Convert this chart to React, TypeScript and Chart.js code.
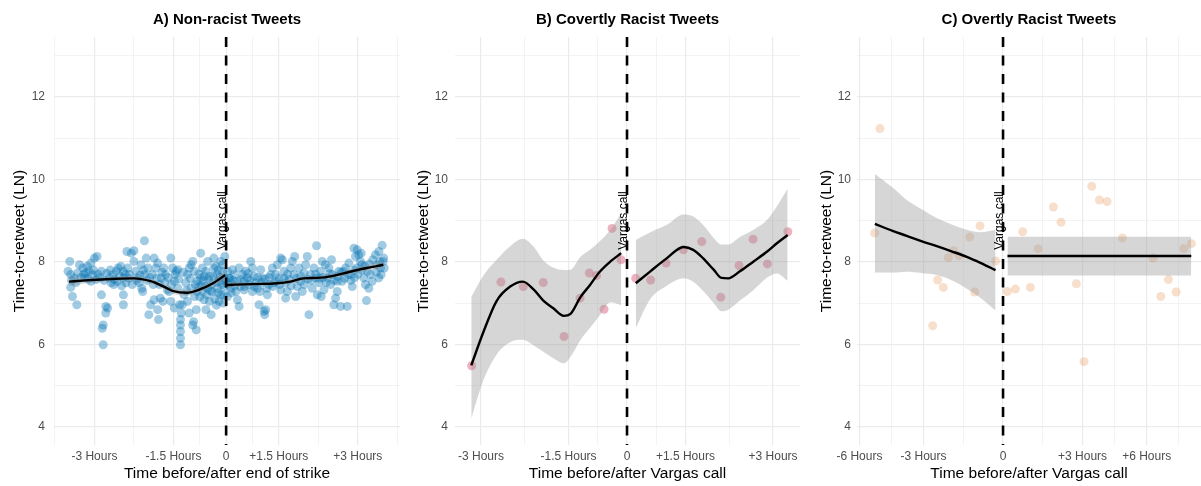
import React, { useEffect, useRef } from 'react';
import { Chart, registerables } from 'chart.js';

Chart.register(...registerables);

const FONT = "'Liberation Sans', Arial, Helvetica, sans-serif";
Chart.defaults.font.family = FONT;

// ---------- shared y axis ----------
const yTickValues = [4, 5, 6, 7, 8, 9, 10, 11, 12, 13];
const yLabelled = [4, 6, 8, 10, 12];
const yMin = 3.56;
const yMax = 13.45;
const yTitle = 'Time-to-retweet (LN)';
const eventX = 0;
const eventLabel = 'Vargas call';
const eventLabelY = 9;

// ---------- Panel A: Non-racist tweets (x in minutes) ----------
const aTitle = 'A) Non-racist Tweets';
const aXTitle = 'Time before/after end of strike';
const aTicks = [-150, -60, 0, 60, 150];
const aTickLabels = ['-3 Hours', '-1.5 Hours', '0', '+1.5 Hours', '+3 Hours'];
const aMinorTicks = [-195, -105, -30, 30, 105, 195];
const aRange = [-196, 198];

const aPoints: [number, number][] = [
  [-178, 8.01], [-180, 7.77], [-177, 7.69], [-173, 7.61], [-177, 7.38], [-175, 7.16], [-170, 6.96], [-167, 7.93], [-169, 7.73],
  [-163, 7.85], [-158, 7.89], [-154, 7.97], [-150, 8.09], [-147, 8.13], [-160, 7.73], [-156, 7.77], [-152, 7.69], [-148, 7.57], [-161, 7.61], [-154, 7.53],
  [-142, 7.77], [-142, 7.2], [-141, 6.39], [-140, 6.47], [-140, 5.99], [-137, 6.92], [-135, 6.88], [-137, 6.76], [-133, 7.61], [-131, 7.49], [-129, 7.69], [-127, 7.57],
  [-125, 7.77], [-123, 7.85], [-120, 7.89], [-117, 7.77], [-121, 7.65], [-117, 7.61], [-117, 7.2], [-117, 6.96], [-114, 7.49], [-112, 7.85], [-110, 7.69], [-108, 8.21], [-113, 8.25], [-105, 8.27],
  [-105, 8.01], [-103, 7.77], [-101, 7.61], [-97, 7.93], [-96, 7.36], [-93, 8.51], [-93, 7.69], [-91, 8.09], [-89, 7.85], [-99, 7.49], [-95, 7.28],
  [-88, 6.72], [-86, 6.96], [-82, 8.09], [-80, 7.85], [-82, 7.08], [-78, 6.84], [-77, 6.6], [-75, 7.12], [-72, 7.04], [-74, 7.61], [-76, 7.45], [-71, 7.85], [-84, 7.69], [-78, 7.97],
  [-69, 7.69], [-67, 7.32], [-63, 8.09], [-63, 7.04], [-61, 7.85], [-59, 7.53], [-57, 7.77], [-55, 7.81], [-53, 6.96], [-52, 6.6], [-52, 6.47], [-52, 6.31], [-52, 6.15], [-52, 5.99], [-51, 6.76], [-55, 7.36], [-65, 7.28], [-59, 6.88],
  [-50, 6.96], [-48, 7.2], [-46, 7.49], [-44, 7.69], [-42, 7.85], [-40, 7.93], [-38, 8.01], [-36, 7.77], [-44, 7.04], [-42, 6.76], [-38, 6.47], [-37, 6.55], [-34, 6.35], [-34, 6.84], [-36, 7.16], [-40, 7.36], [-33, 7.53], [-33, 7.28],
  [-29, 8.21], [-27, 7.85], [-29, 7.61], [-27, 7.28], [-25, 7.08], [-23, 6.84], [-21, 8.01], [-19, 7.65], [-17, 7.45], [-19, 7.04], [-17, 6.72], [-16, 7.28], [-14, 7.85], [-14, 8.09], [-23, 7.77], [-21, 7.36], [-31, 7.4],
  [-12, 7.89], [-10, 7.69], [-8, 7.53], [-6, 8.01], [-6, 7.2], [-4, 7.77], [-2, 7.61], [-2, 7.4], [-4, 7.93], [-1.5, 8.13], [-8, 7.04], [-10, 7.36],
  [-176, 7.55], [-171, 7.5], [-165, 7.62], [-162, 7.7], [-157, 7.58], [-151, 7.8], [-146, 7.7], [-144, 7.62], [-139, 7.55], [-136, 7.72], [-132, 7.8], [-128, 7.45], [-124, 7.52], [-119, 7.42], [-115, 7.7],
  [-111, 7.6], [-107, 7.45], [-102, 7.55], [-98, 7.68], [-94, 7.8], [-90, 7.55], [-87, 7.62], [-83, 7.45], [-79, 7.6], [-73, 7.75], [-70, 7.5], [-66, 7.62], [-62, 7.45], [-58, 7.7], [-54, 7.58],
  [-49, 7.75], [-45, 7.3], [-41, 7.6], [-35, 7.45], [-31, 7.7], [-26, 7.55], [-24, 7.4], [-20, 7.58], [-15, 7.65], [-11, 7.5], [-9, 7.8], [-5, 7.45], [-3, 7.2], [-1, 7.55],
  [-30, 7.15], [-28, 7.42], [-22, 7.2], [-18, 7.3], [-13, 7.1], [-9, 7.25], [-7, 7.62], [-3, 7.0], [-11, 6.95], [-25, 7.65],
  [1.5, 7.77], [3.4, 7.61], [5.3, 7.49], [7.2, 7.81], [9.1, 7.69], [11, 7.28], [12.9, 7.08], [14.8, 6.92], [1.5, 7.16], [5.3, 7.36], [12.9, 7.53], [14.8, 7.85], [16, 7.4],
  [18.6, 7.69], [20.5, 7.53], [22.3, 7.77], [24.2, 7.61], [26, 7.45], [28, 8.01], [29.9, 7.85], [31.8, 7.65], [33.7, 7.49], [35.6, 7.36], [20.5, 7.32], [29.9, 7.28],
  [37.5, 6.96], [39.4, 7.81], [41.3, 7.61], [43.2, 6.8], [43.9, 6.72], [45, 6.84], [47, 7.2], [48.9, 7.45], [50.8, 7.69], [52.7, 7.85], [54.5, 7.49], [38.6, 7.28], [46.2, 7.36],
  [56.4, 7.69], [58.3, 7.93], [60.2, 7.61], [62.1, 8.09], [64, 8.05], [65.9, 7.77], [67.8, 7.49], [69.7, 7.28], [71.6, 7.57], [73.5, 7.85], [62.1, 7.32], [67.8, 7.12],
  [75.4, 8.01], [77.3, 7.69], [79.2, 7.16], [81, 7.4], [83, 7.85], [84.8, 7.53], [86.7, 7.28], [88.6, 7.73], [90.5, 7.93], [92.4, 8.13], [94.3, 6.72], [78, 8.13],
  [96.2, 7.69], [98, 7.36], [100, 7.85], [101.9, 7.61], [103, 8.39], [103.8, 7.2], [105.7, 7.49], [107.6, 7.77], [109.5, 8.01], [111.4, 7.32], [108.3, 7.16],
  [113, 7.93], [115, 7.61], [117, 7.85], [119, 7.45], [121, 7.69], [122.7, 6.96], [124.6, 7.12], [126.5, 7.28], [128.4, 7.77], [130.3, 6.92], [120, 8.05], [126.5, 7.53],
  [132, 7.53], [134, 7.77], [136, 7.85], [137.9, 6.92], [139.8, 7.97], [141.7, 7.69], [143.6, 7.4], [145.5, 8.33], [147.3, 8.13], [148.5, 7.85], [146.2, 7.61],
  [149.2, 8.29], [151, 8.17], [153, 8.01], [154.5, 7.93], [156.8, 7.61], [158.7, 7.45], [159.8, 7.06], [160.6, 7.77], [162.5, 7.36], [164.4, 7.69], [166.3, 7.53], [153.8, 8.21],
  [170, 8.17], [172, 7.93], [173.9, 7.61], [175.8, 7.85], [177.7, 8.4], [178.8, 8.01], [179.5, 8.09], [176.5, 7.69], [174, 8.25],
  [2, 7.45], [4, 7.6], [6, 7.25], [8, 7.55], [10, 7.42], [17, 7.58], [21, 7.4], [25, 7.72], [27, 7.55], [32, 7.4], [36, 7.62], [40, 7.5], [44, 7.58], [49, 7.62], [53, 7.4],
  [57, 7.52], [61, 7.45], [66, 7.6], [70, 7.7], [74, 7.42], [80, 7.6], [85, 7.65], [89, 7.45], [93, 7.58], [97, 7.55], [102, 7.7], [106, 7.6], [110, 7.62], [114, 7.5], [118, 7.72],
  [123, 7.55], [127, 7.65], [131, 7.75], [135, 7.6], [139, 7.7], [142, 7.55], [146, 7.8], [150, 7.7], [155, 7.8], [158, 7.9], [163, 7.95], [167, 8.05], [171, 7.75], [175, 8.0], [180, 7.85],
];

const aPreX = [-179, -160, -143, -125, -105, -86, -71, -60, -45, -30, -15, -1];
const aPreFit = [7.52, 7.55, 7.57, 7.59, 7.6, 7.53, 7.4, 7.29, 7.25, 7.33, 7.48, 7.68];
const aPreHi = [7.64, 7.62, 7.63, 7.64, 7.66, 7.59, 7.46, 7.36, 7.32, 7.4, 7.56, 7.8];
const aPreLo = [7.4, 7.48, 7.51, 7.54, 7.54, 7.47, 7.34, 7.22, 7.18, 7.26, 7.4, 7.56];
const aPostX = [1, 30, 58, 73, 88, 104, 122, 141, 160, 179];
const aPostFit = [7.44, 7.46, 7.48, 7.52, 7.6, 7.61, 7.66, 7.76, 7.85, 7.93];
const aPostHi = [7.51, 7.51, 7.53, 7.57, 7.65, 7.66, 7.71, 7.82, 7.92, 8.03];
const aPostLo = [7.37, 7.41, 7.43, 7.47, 7.55, 7.56, 7.61, 7.7, 7.78, 7.83];

// ---------- Panel B: Covertly racist tweets ----------
const bTitle = 'B) Covertly Racist Tweets';
const bXTitle = 'Time before/after Vargas call';
const bTicks = [-150, -60, 0, 60, 150];
const bTickLabels = ['-3 Hours', '-1.5 Hours', '0', '+1.5 Hours', '+3 Hours'];
const bMinorTicks = [-105, -30, 30, 105];
const bRange = [-176.7, 177.7];

const bPoints: [number, number][] = [
  [-159.6, 5.48], [-129.5, 7.51], [-106.6, 7.4], [-86, 7.5], [-64.7, 6.19], [-48.3, 7.12], [-38.7, 7.73], [-31.2, 7.67], [-23.6, 6.85], [-15.4, 8.81], [-6.2, 8.05],
  [8.9, 7.6], [24.3, 7.56], [40.1, 7.97], [57.9, 8.29], [76.8, 8.49], [96.3, 7.14], [115.1, 7.91], [129.5, 8.55], [144.2, 7.95], [165.2, 8.73],
];

const bPreX = [-160, -148, -134, -120, -107, -96, -86, -76, -65, -58, -48, -38, -28, -17, -6];
const bPreFit = [5.49, 6.27, 7.05, 7.4, 7.52, 7.33, 7.06, 6.88, 6.69, 6.74, 7.14, 7.44, 7.76, 8.01, 8.21];
const bPreHi = [7.15, 7.65, 8.05, 8.38, 8.56, 8.37, 8.03, 7.86, 7.8, 7.81, 8.12, 8.29, 8.5, 8.78, 9.18];
const bPreLo = [4.2, 5.1, 5.75, 6.05, 6.11, 5.98, 5.82, 5.67, 5.54, 5.7, 6.1, 6.4, 6.7, 7.02, 6.95];
const bPostX = [9, 24, 41, 58, 68, 78, 89, 97, 104, 116, 130, 144, 154, 165];
const bPostFit = [7.48, 7.77, 8.09, 8.36, 8.29, 8.09, 7.81, 7.61, 7.6, 7.77, 8.01, 8.25, 8.45, 8.65];
const bPostHi = [8.53, 8.72, 8.9, 9.15, 9.1, 8.9, 8.58, 8.42, 8.42, 8.6, 8.78, 9.02, 9.35, 9.78];
const bPostLo = [6.4, 7.1, 7.42, 7.6, 7.52, 7.3, 7.0, 6.8, 6.84, 7.06, 7.32, 7.62, 7.72, 7.54];

// ---------- Panel C: Overtly racist tweets ----------
const cTitle = 'C) Overtly Racist Tweets';
const cXTitle = 'Time before/after Vargas call';
const cTicks = [-325, -180, 0, 180, 325];
const cTickLabels = ['-6 Hours', '-3 Hours', '0', '+3 Hours', '+6 Hours'];
const cMinorTicks = [-252.5, -90, 90, 252.5, 397.5];
const cRange = [-330.5, 448];

const cPoints: [number, number][] = [
  [-290.5, 8.7], [-278.5, 11.23], [-159.2, 6.45], [-147.9, 7.56], [-135.1, 7.38], [-123.8, 8.1], [-111.7, 8.27], [-99.6, 8.15], [-75.5, 8.6], [-64.1, 7.27], [-52.1, 8.87], [-16.6, 8.02],
  [9.8, 7.28], [27.9, 7.34], [44.5, 8.73], [61.9, 7.38], [79.2, 8.32], [114, 9.33], [131.3, 8.96], [166, 7.47], [183.4, 5.58], [200.7, 9.83], [218.1, 9.5], [235.5, 9.46],
  [270.2, 8.58], [339.6, 8.09], [357, 7.16], [374.3, 7.57], [391.7, 7.27], [409.1, 8.32], [426.3, 8.44],
];

const cPreX = [-290, -250, -218, -185, -150, -115, -82, -50, -17];
const cPreFit = [8.92, 8.75, 8.63, 8.5, 8.38, 8.25, 8.12, 7.97, 7.8];
const cPreHi = [10.13, 9.8, 9.5, 9.28, 9.06, 8.9, 8.78, 8.72, 8.78];
const cPreLo = [7.74, 7.74, 7.76, 7.73, 7.68, 7.55, 7.35, 7.12, 6.82];
const cPostX = [10, 426];
const cPostFit = [8.14, 8.14];
const cPostHi = [8.61, 8.61];
const cPostLo = [7.67, 7.67];

// ---------- panel definitions ----------
type Segment = { x: number[]; fit: number[]; hi: number[]; lo: number[] };
type PanelCfg = {
  title: string;
  xTitle: string;
  ticks: number[];
  tickLabels: string[];
  minor: number[];
  range: number[];
  points: [number, number][];
  pointColor: string;
  segments: Segment[];
  left: number;
  width: number;
  yAxisWidth: number;
  yTickPad: number;
  yTitlePad: number;
};

const panels: PanelCfg[] = [
  {
    title: aTitle, xTitle: aXTitle, ticks: aTicks, tickLabels: aTickLabels, minor: aMinorTicks, range: aRange,
    points: aPoints, pointColor: 'rgba(0, 114, 178, 0.37)',
    segments: [
      { x: aPreX, fit: aPreFit, hi: aPreHi, lo: aPreLo },
      { x: aPostX, fit: aPostFit, hi: aPostHi, lo: aPostLo },
    ],
    left: 0, width: 400, yAxisWidth: 54, yTickPad: 9, yTitlePad: 10.5,
  },
  {
    title: bTitle, xTitle: bXTitle, ticks: bTicks, tickLabels: bTickLabels, minor: bMinorTicks, range: bRange,
    points: bPoints, pointColor: 'rgba(220, 70, 100, 0.42)',
    segments: [
      { x: bPreX, fit: bPreFit, hi: bPreHi, lo: bPreLo },
      { x: bPostX, fit: bPostFit, hi: bPostHi, lo: bPostLo },
    ],
    left: 400, width: 400, yAxisWidth: 55, yTickPad: 7, yTitlePad: 14,
  },
  {
    title: cTitle, xTitle: cXTitle, ticks: cTicks, tickLabels: cTickLabels, minor: cMinorTicks, range: cRange,
    points: cPoints, pointColor: 'rgba(213, 94, 0, 0.2)',
    segments: [
      { x: cPreX, fit: cPreFit, hi: cPreHi, lo: cPreLo },
      { x: cPostX, fit: cPostFit, hi: cPostHi, lo: cPostLo },
    ],
    left: 800, width: 401, yAxisWidth: 57, yTickPad: 6, yTitlePad: 17.6,
  },
];

const eventPlugin = {
  id: 'eventLine',
  afterDatasetsDraw(chart: any) {
    const { ctx, chartArea, scales } = chart;
    const x = scales.x.getPixelForValue(eventX);
    ctx.save();
    ctx.beginPath();
    ctx.rect(chartArea.left, chartArea.top, chartArea.right - chartArea.left, chartArea.bottom - chartArea.top);
    ctx.clip();
    ctx.strokeStyle = '#000000';
    ctx.lineWidth = 2.6;
    ctx.setLineDash([10, 8.5]);
    ctx.beginPath();
    ctx.moveTo(x, chartArea.top);
    ctx.lineTo(x, chartArea.bottom);
    ctx.stroke();
    ctx.restore();

    ctx.save();
    ctx.translate(x - 0.5, scales.y.getPixelForValue(eventLabelY));
    ctx.rotate(-Math.PI / 2);
    ctx.font = `12px ${FONT}`;
    ctx.fillStyle = '#000000';
    ctx.textAlign = 'center';
    ctx.textBaseline = 'alphabetic';
    ctx.fillText(eventLabel, 0, 0);
    ctx.restore();
  },
};

function Panel({ cfg }: { cfg: PanelCfg }) {
  const ref = useRef<HTMLCanvasElement | null>(null);

  useEffect(() => {
    if (!ref.current) return;
    const datasets: any[] = [
      {
        type: 'scatter',
        data: cfg.points.map(([x, y]) => ({ x, y })),
        backgroundColor: cfg.pointColor,
        borderWidth: 0,
        pointRadius: 4.5,
        pointHoverRadius: 4.5,
        order: 10,
      },
    ];
    cfg.segments.forEach((s) => {
      datasets.push({
        type: 'line',
        data: s.x.map((x, i) => ({ x, y: s.hi[i] })),
        borderWidth: 0,
        pointRadius: 0,
        backgroundColor: 'rgba(153, 153, 153, 0.4)',
        fill: '+1',
        cubicInterpolationMode: 'monotone',
        order: 5,
      });
      datasets.push({
        type: 'line',
        data: s.x.map((x, i) => ({ x, y: s.lo[i] })),
        borderWidth: 0,
        pointRadius: 0,
        fill: false,
        cubicInterpolationMode: 'monotone',
        order: 5,
      });
      datasets.push({
        type: 'line',
        data: s.x.map((x, i) => ({ x, y: s.fit[i] })),
        borderColor: '#000000',
        borderWidth: 2.4,
        pointRadius: 0,
        fill: false,
        cubicInterpolationMode: 'monotone',
        order: 1,
      });
    });

    const allX = [...cfg.ticks, ...cfg.minor].sort((a, b) => a - b);

    const chart = new Chart(ref.current, {
      type: 'scatter',
      data: { datasets },
      plugins: [eventPlugin],
      options: {
        responsive: false,
        animation: false,
        devicePixelRatio: 1,
        layout: { padding: 0, autoPadding: false },
        events: [],
        plugins: {
          legend: { display: false },
          tooltip: { enabled: false },
          title: {
            display: true,
            text: cfg.title,
            color: '#000000',
            font: { size: 15, weight: 'bold', family: FONT },
            padding: { top: 11, bottom: 8 },
            fullSize: false,
          } as any,
        },
        scales: {
          x: {
            type: 'linear',
            min: cfg.range[0],
            max: cfg.range[1],
            afterBuildTicks: (s: any) => {
              s.ticks = allX.map((v) => ({ value: v }));
            },
            afterFit: (s: any) => {
              s.height = 41;
              s.paddingLeft = 0;
              s.paddingRight = 0;
            },
            ticks: {
              autoSkip: false,
              maxRotation: 0,
              minRotation: 0,
              padding: 4.8,
              color: '#4d4d4d',
              font: { size: 12, family: FONT },
              callback: (v: any) => {
                const i = cfg.ticks.indexOf(Number(v));
                return i >= 0 ? cfg.tickLabels[i] : '';
              },
            },
            grid: {
              color: '#ebebeb',
              lineWidth: (c: any) => (cfg.ticks.includes(c.tick?.value) ? 1.2 : 0.6),
              drawTicks: false,
            },
            border: { display: false },
            title: {
              display: true,
              text: cfg.xTitle,
              color: '#000000',
              font: { size: 15.5, family: FONT },
              padding: { top: 0, bottom: 2.7 },
            },
          },
          y: {
            type: 'linear',
            min: yMin,
            max: yMax,
            afterBuildTicks: (s: any) => {
              s.ticks = yTickValues.map((v) => ({ value: v }));
            },
            afterFit: (s: any) => {
              s.width = cfg.yAxisWidth;
              s.paddingTop = 0;
              s.paddingBottom = 0;
            },
            ticks: {
              autoSkip: false,
              padding: cfg.yTickPad,
              color: '#4d4d4d',
              font: { size: 12, family: FONT },
              callback: (v: any) => (yLabelled.includes(Number(v)) ? String(v) : ''),
            },
            grid: {
              color: '#ebebeb',
              lineWidth: (c: any) => (yLabelled.includes(c.tick?.value) ? 1.2 : 0.6),
              drawTicks: false,
            },
            border: { display: false },
            title: {
              display: true,
              text: yTitle,
              color: '#000000',
              font: { size: 15.5, family: FONT },
              padding: { top: cfg.yTitlePad, bottom: 0 },
            },
          },
        },
      } as any,
    });
    return () => chart.destroy();
  }, [cfg]);

  return (
    <div style={{ position: 'absolute', left: cfg.left, top: 0, width: cfg.width, height: 486 }}>
      <canvas ref={ref} width={cfg.width} height={486} style={{ display: 'block', width: cfg.width, height: 486 }} />
    </div>
  );
}

export default function App() {
  return (
    <div style={{ position: 'absolute', left: 0, top: 0, width: 1201, height: 486, background: '#ffffff', overflow: 'hidden' }}>
      {panels.map((p) => (
        <Panel key={p.title} cfg={p} />
      ))}
    </div>
  );
}
